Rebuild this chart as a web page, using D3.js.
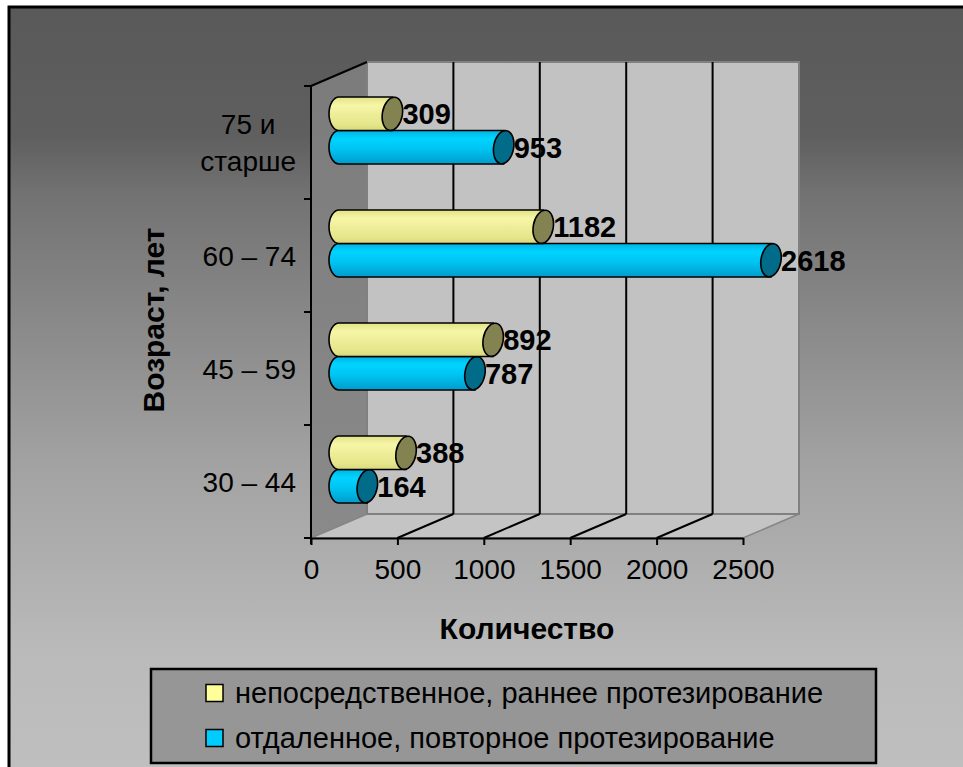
<!DOCTYPE html>
<html>
<head>
<meta charset="utf-8">
<script src="https://cdn.jsdelivr.net/npm/d3@7"></script>
<style>
  html, body { margin: 0; padding: 0; background: #ffffff; }
  svg { display: block; }
  text { font-family: "Liberation Sans", Arial, sans-serif; fill: #000; }
</style>
</head>
<body>
<svg id="chart" width="963" height="767"></svg>
<script>
// Age groups, top to bottom as drawn
const categories = ["75 и\nстарше", "60 – 74", "45 – 59", "30 – 44"];
const seriesNames = [
  "непосредственное, раннее протезирование",
  "отдаленное, повторное протезирование"
];
const earlyValues  = [309, 1182, 892, 388];   // непосредственное, раннее
const repeatValues = [953, 2618, 787, 164];   // отдаленное, повторное
const xTicks = [0, 500, 1000, 1500, 2000, 2500];
const xTitle = "Количество";
const yTitle = "Возраст, лет";

const svg = d3.select("#chart");
const defs = svg.append("defs");

// ---- frame geometry (front plane of the 3-D box plus depth offset) ----
const front = { left: 311, right: 743, top: 86, bottom: 538 };
const depth = { dx: 56, dy: -24 };

const x = d3.scaleLinear().domain([0, 2500]).range([front.left, front.right]).clamp(true);
const y = d3.scaleBand().domain(categories).range([front.top, front.bottom]);
const inner = d3.scaleBand().domain([0, 1]).range([0, y.bandwidth()]).paddingInner(0).paddingOuter(0.69);

// ---- background ----
const bg = defs.append("linearGradient").attr("id", "bgGrad")
  .attr("gradientUnits", "userSpaceOnUse").attr("x1", 0).attr("y1", 7).attr("x2", 0).attr("y2", 767);
[[0, "#595959"], [0.17, "#5f5f5f"], [0.25, "#737373"], [0.6, "#a2a2a2"], [0.85, "#bababa"], [1, "#bfbfbf"]]
  .forEach(([o, c]) => bg.append("stop").attr("offset", o).attr("stop-color", c));

svg.append("rect").attr("x", 9).attr("y", 7).attr("width", 970).attr("height", 780)
  .attr("fill", "url(#bgGrad)").attr("stroke", "#000").attr("stroke-width", 3);

// ---- walls ----
const B = (px, py) => [px + depth.dx, py + depth.dy];
const poly = pts => "M" + pts.map(p => p.join(",")).join("L") + "Z";

const sideGrad = defs.append("linearGradient").attr("id", "sideGrad")
  .attr("x1", 0).attr("y1", 0).attr("x2", 0).attr("y2", 1);
sideGrad.append("stop").attr("offset", 0).attr("stop-color", "#7b7b7b");
sideGrad.append("stop").attr("offset", 1).attr("stop-color", "#8a8a8a");

// side wall
svg.append("path")
  .attr("d", poly([[front.left, front.top], B(front.left, front.top), B(front.left, front.bottom), [front.left, front.bottom]]))
  .attr("fill", "url(#sideGrad)");
// floor
svg.append("path")
  .attr("d", poly([[front.left, front.bottom], B(front.left, front.bottom), B(front.right, front.bottom), [front.right, front.bottom]]))
  .attr("fill", "#c4c4c4").attr("stroke", "#858585").attr("stroke-width", 1.5);
// back wall
const bwL = B(front.left, front.top), bwR = B(front.right, front.bottom);
svg.append("rect").attr("x", bwL[0]).attr("y", bwL[1])
  .attr("width", bwR[0] - bwL[0]).attr("height", bwR[1] - bwL[1])
  .attr("fill", "#c2c2c2").attr("stroke", "#808080").attr("stroke-width", 2);

// gridlines on back wall and floor
const inside = xTicks.filter(t => t > 0 && t < 2500);
svg.append("g").selectAll("line").data(inside).join("line")
  .attr("x1", d => x(d) + depth.dx).attr("x2", d => x(d) + depth.dx)
  .attr("y1", bwL[1]).attr("y2", bwR[1])
  .attr("stroke", "#000").attr("stroke-width", 2);
svg.append("g").selectAll("line").data(inside).join("line")
  .attr("x1", d => x(d)).attr("y1", front.bottom)
  .attr("x2", d => x(d) + depth.dx).attr("y2", front.bottom + depth.dy)
  .attr("stroke", "#000").attr("stroke-width", 2);

// top edge of the side wall
svg.append("line").attr("x1", front.left).attr("y1", front.top)
  .attr("x2", bwL[0]).attr("y2", bwL[1]).attr("stroke", "#000").attr("stroke-width", 2);

// ---- x axis ----
const xAxis = d3.axisBottom(x).tickValues(xTicks).tickFormat(d3.format("d"))
  .tickSize(7).tickSizeOuter(0).tickPadding(14);
const gx = svg.append("g").attr("transform", `translate(0,${front.bottom})`).call(xAxis);
gx.select(".domain").attr("stroke", "#000").attr("stroke-width", 2);
gx.selectAll(".tick line").attr("stroke", "#000").attr("stroke-width", 2);
gx.selectAll(".tick text").style("font-size", "28px").style("font-family", "Liberation Sans, Arial, sans-serif").attr("fill", "#000");

// ---- y axis (ticks at band edges, labels at band centres) ----
const edges = categories.map(c => y(c)).concat([front.bottom]);
svg.append("line").attr("x1", front.left).attr("x2", front.left)
  .attr("y1", front.top).attr("y2", front.bottom + 6).attr("stroke", "#000").attr("stroke-width", 2);
svg.append("g").selectAll("line").data(edges).join("line")
  .attr("x1", front.left - 7).attr("x2", front.left).attr("y1", d => d).attr("y2", d => d)
  .attr("stroke", "#000").attr("stroke-width", 2);

// multi-line labels: lines centred on each other, block right-aligned at the axis
const labelRight = 296;
const yl = svg.append("g").selectAll("text").data(categories).join("text")
  .style("font-size", "28px").attr("text-anchor", "middle")
  .attr("transform", d => `translate(0,${y(d) + y.bandwidth() / 2})`);
yl.each(function (d) {
  const lines = d.split("\n");
  const t = d3.select(this);
  const spans = lines.map((ln, i) => t.append("tspan")
    .attr("dy", i === 0 ? (0.36 - (lines.length - 1) * 0.65) + "em" : "1.3em")
    .text(ln));
  const maxW = d3.max(spans, s => s.node().getComputedTextLength());
  spans.forEach(s => s.attr("x", labelRight - maxW / 2));
});

// ---- cylinders ----
const seriesValues = [earlyValues, repeatValues];
const bodyColors = [
  [[0, "#e2e286"], [0.25, "#f6f6a8"], [0.5, "#eeee9a"], [0.8, "#e6e68c"], [1, "#d8d87c"]],
  [[0, "#00b4e4"], [0.25, "#00d4ff"], [0.55, "#00c4f2"], [1, "#009ccc"]]
];
const capColors = ["#838352", "#006c8a"];
bodyColors.forEach((stops, i) => {
  const g = defs.append("linearGradient").attr("id", "body" + i)
    .attr("x1", 0).attr("y1", 0).attr("x2", 0).attr("y2", 1);
  stops.forEach(([o, c]) => g.append("stop").attr("offset", o).attr("stop-color", c));
});

const bars = [];
categories.forEach((c, ci) => {
  [1, 0].forEach(si => bars.push({ cat: c, s: si, v: seriesValues[si][ci] }));
});

const rx = 10;
const midX = depth.dx / 2, midY = depth.dy / 2;
const barG = svg.append("g").selectAll("g").data(bars).join("g");
barG.each(function (d) {
  const g = d3.select(this);
  const xs = x(0) + midX, xe = x(d.v) + midX;
  const yt = y(d.cat) + midY + inner(d.s), h = inner.bandwidth(), ry = h / 2;
  g.append("path")
    .attr("d", `M${xs},${yt}L${xe},${yt}L${xe},${yt + h}L${xs},${yt + h}A${rx},${ry} 0 0 1 ${xs},${yt}Z`)
    .attr("fill", `url(#body${d.s})`).attr("stroke", "#000").attr("stroke-width", 1.6);
  g.append("ellipse").attr("cx", 0).attr("cy", 0).attr("rx", rx).attr("ry", ry)
    .attr("transform", `translate(${xe},${yt + ry}) rotate(10)`)
    .attr("fill", capColors[d.s]).attr("stroke", "#000").attr("stroke-width", 1.6);
  g.append("text").attr("x", xe + rx).attr("y", yt + ry).attr("dy", "0.36em")
    .style("font-size", "29px").style("font-weight", "bold").text(d.v);
});

// ---- axis titles ----
svg.append("text").attr("x", (front.left + front.right) / 2).attr("y", 639)
  .attr("text-anchor", "middle").style("font-size", "30px").style("font-weight", "bold").text(xTitle);
svg.append("text").attr("transform", "translate(164,320) rotate(-90)")
  .attr("text-anchor", "middle").style("font-size", "30px").style("font-weight", "bold").text(yTitle);

// ---- legend ----
const legend = svg.append("g");
legend.append("rect").attr("x", 151).attr("y", 669).attr("width", 725).attr("height", 94)
  .attr("fill", "#969696").attr("stroke", "#000").attr("stroke-width", 2.5);
const legendFill = ["#ffff99", "#00ccff"];
const li = legend.selectAll("g").data(seriesNames).join("g")
  .attr("transform", (d, i) => `translate(206,${693 + i * 45})`);
li.append("rect").attr("x", 0).attr("y", -8.5).attr("width", 17).attr("height", 17)
  .attr("fill", (d, i) => legendFill[i]).attr("stroke", "#000").attr("stroke-width", 1.5);
li.append("text").attr("x", 29).attr("y", 10).style("font-size", "29px").text(d => d);
</script>
</body>
</html>
